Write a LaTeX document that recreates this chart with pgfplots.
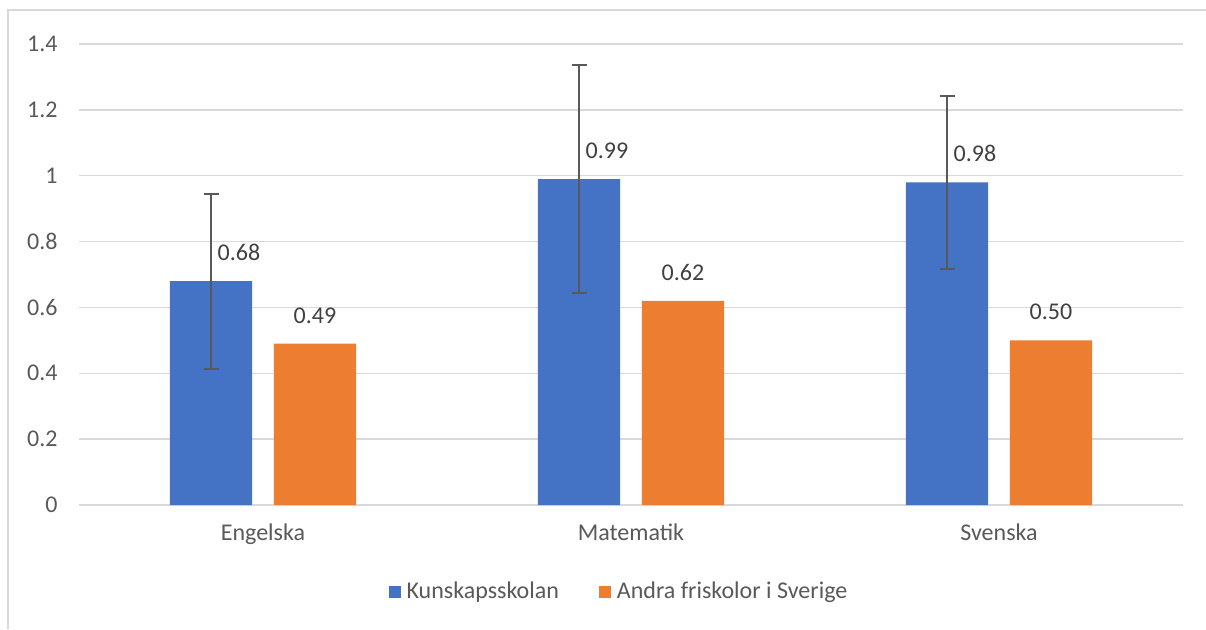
\documentclass[border=0pt]{standalone}
\usepackage{fontspec}
\setmainfont{Carlito}
\usepackage{pgfplots}
\pgfplotsset{compat=1.18}
\definecolor{kblue}{HTML}{4472C4}
\definecolor{korange}{HTML}{ED7D31}
\definecolor{gridgray}{HTML}{D9D9D9}
\definecolor{ticktext}{HTML}{595959}
\definecolor{labeltext}{HTML}{404040}

\begin{document}
\begin{tikzpicture}
\begin{axis}[
    name=ax,
    scale only axis,
    width=552pt, height=230.5pt,
    xmin=-0.5, xmax=2.5,
    ymin=0, ymax=1.4,
    xtick={0,1,2},
    xticklabels={Engelska, Matematik, Svenska},
    ytick={0,0.2,0.4,0.6,0.8,1,1.2,1.4},
    /pgf/number format/assume math mode=true,
    axis line style={draw=none},
    major tick length=0pt,
    ymajorgrids=true,
    grid style={gridgray, line width=0.75pt},
    tick label style={font=\fontsize{12}{14}\selectfont, text=ticktext},
    yticklabel style={inner sep=0pt, xshift=-10.5pt},
    xticklabel style={inner sep=0pt, yshift=-9pt},
    ybar,
    bar width=0.223,
    nodes near coords={\pgfmathprintnumber[fixed,fixed zerofill,precision=2]{\pgfplotspointmeta}},
    every node near coord/.append style={font=\fontsize{12}{14}\selectfont, text=labeltext, inner sep=0pt, yshift=10pt},
    legend columns=2,
    legend cell align=left,
    legend style={draw=none, at={(0.49,-0.1887)}, anchor=center,
        font=\fontsize{12}{14}\selectfont, text=ticktext,
        /tikz/every odd column/.append style={column sep=1pt},
        /tikz/every even column/.append style={column sep=18pt}},
    legend image code/.code={\fill[#1] (0pt,-3pt) rectangle (6pt,3pt);},
]
\addplot[fill=kblue, draw=none, bar shift=-0.1413,
    every node near coord/.append style={xshift=14pt},
    error bars/.cd, y dir=both, y explicit,
    error bar style={line width=1pt, ticktext},
    error mark options={rotate=90, line width=1pt, ticktext, mark size=3.75pt}]
    coordinates {
    (0, 0.68) +- (0, 0.266)
    (1, 0.99) +- (0, 0.347)
    (2, 0.98) +- (0, 0.263)
};
\addplot[fill=korange, draw=none, bar shift=0.1413]
    coordinates {
    (0, 0.49)
    (1, 0.62)
    (2, 0.50)
};
\legend{Kunskapsskolan, Andra friskolor i Sverige}
\end{axis}
\draw[gridgray, line width=1pt]
    ([shift={(-35.5pt,-62pt)}]ax.south west) --
    ([shift={(-35.5pt,247.5pt)}]ax.south west) --
    ([shift={(563.5pt,247.5pt)}]ax.south west);
\pgfresetboundingbox
\path[use as bounding box]
    ([shift={(-39.5pt,-62pt)}]ax.south west) rectangle
    ([shift={(563.5pt,252.5pt)}]ax.south west);
\end{tikzpicture}
\end{document}
